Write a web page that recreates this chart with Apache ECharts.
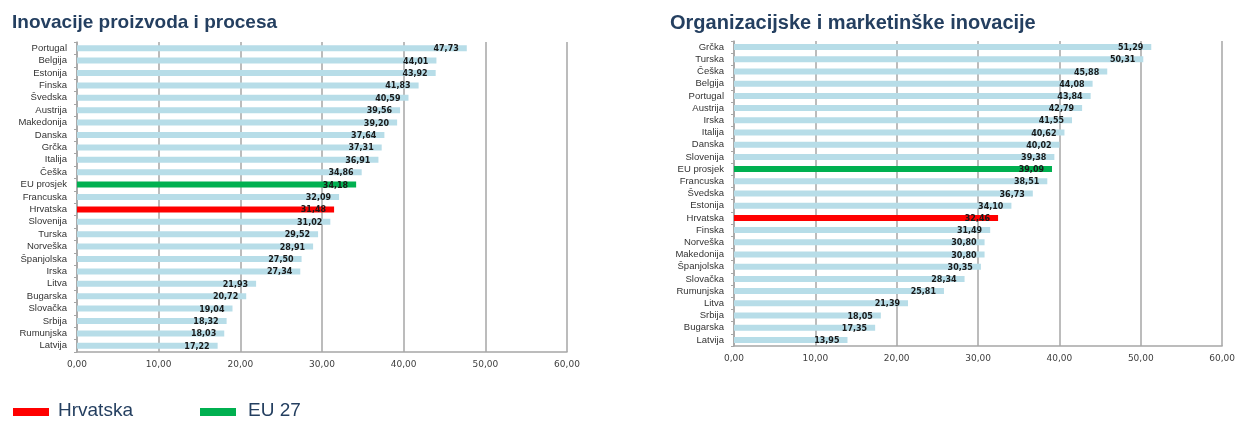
<!DOCTYPE html>
<html>
<head>
<meta charset="utf-8">
<style>
html,body{margin:0;padding:0;background:#fff;}
#c{width:1238px;height:421px;}
</style>
<script src="https://cdn.jsdelivr.net/npm/echarts@6/dist/echarts.min.js"></script>
</head>
<body>
<div id="c"></div>
<script>
const leftTitle = 'Inovacije proizvoda i procesa';
const rightTitle = 'Organizacijske i marketinške inovacije';
const leftCategories = ['Portugal','Belgija','Estonija','Finska','Švedska','Austrija','Makedonija','Danska','Grčka','Italija','Češka','EU prosjek','Francuska','Hrvatska','Slovenija','Turska','Norveška','Španjolska','Irska','Litva','Bugarska','Slovačka','Srbija','Rumunjska','Latvija'];
const leftValues = [47.73,44.01,43.92,41.83,40.59,39.56,39.20,37.64,37.31,36.91,34.86,34.18,32.09,31.48,31.02,29.52,28.91,27.50,27.34,21.93,20.72,19.04,18.32,18.03,17.22];
const rightCategories = ['Grčka','Turska','Češka','Belgija','Portugal','Austrija','Irska','Italija','Danska','Slovenija','EU prosjek','Francuska','Švedska','Estonija','Hrvatska','Finska','Norveška','Makedonija','Španjolska','Slovačka','Rumunjska','Litva','Srbija','Bugarska','Latvija'];
const rightValues = [51.29,50.31,45.88,44.08,43.84,42.79,41.55,40.62,40.02,39.38,39.09,38.51,36.73,34.10,32.46,31.49,30.80,30.80,30.35,28.34,25.81,21.39,18.05,17.35,13.95];
const xTicks = [0,10,20,30,40,50,60];
const legendItems = ['Hrvatska','EU 27'];

const BLUE = '#b7dde8', RED = '#ff0000', GREEN = '#00b050';
function colorFor(name){
  if (name === 'Hrvatska') return RED;
  if (name === 'EU prosjek') return GREEN;
  return BLUE;
}
function makeData(cats, vals){
  return vals.map((v,i)=>({value:v, name:cats[i], itemStyle:{color:colorFor(cats[i])}}));
}
const fmt = v => v.toFixed(2).replace('.', ',');

function xAxis(gi){
  return {
    gridIndex: gi, type:'value', min: xTicks[0], max: xTicks[xTicks.length-1], interval: 10,
    axisLine:{show:true, lineStyle:{color:'#a6a6a6', width:1.5}},
    axisTick:{show:false},
    splitLine:{show:true, lineStyle:{color:'#a6a6a6', width:1.5}},
    axisLabel:{formatter: fmt, fontSize:9, color:'#404040', margin:8, fontFamily:'DejaVu Sans'}
  };
}
function yAxis(gi, cats){
  return {
    gridIndex: gi, type:'category', data: cats, inverse:true,
    axisLine:{show:true, lineStyle:{color:'#a6a6a6', width:1.5}},
    axisTick:{show:true, length:3, interval:0, lineStyle:{color:'#a6a6a6'}},
    axisLabel:{interval:0, fontSize:9.5, color:'#333', margin:10, fontFamily:'Liberation Sans'}
  };
}
function series(gi, cats, vals){
  return {
    type:'bar', xAxisIndex:gi, yAxisIndex:gi, data: makeData(cats, vals),
    barWidth:6, silent:true,
    label:{show:true, position:'insideRight', distance:8, offset:[0,1],
      formatter: p => fmt(p.value), fontSize:8, fontWeight:'bold', color:'#1a1a1a', fontFamily:'DejaVu Sans'}
  };
}

const chart = echarts.init(document.getElementById('c'));
chart.setOption({
  animation:false,
  title:[
    {text:leftTitle, left:7, top:8, textStyle:{fontSize:19, fontWeight:'bold', color:'#243f60', fontFamily:'Liberation Sans'}},
    {text:rightTitle, left:665, top:8, textStyle:{fontSize:20, fontWeight:'bold', color:'#243f60', fontFamily:'Liberation Sans'}}
  ],
  grid:[
    {left:77, top:42, width:490, height:310},
    {left:734, top:41, width:489, height:305}
  ],
  xAxis:[xAxis(0), xAxis(1)],
  yAxis:[yAxis(0, leftCategories), yAxis(1, rightCategories)],
  series:[series(0, leftCategories, leftValues), series(1, rightCategories, rightValues)],
  graphic:[
    {type:'rect', shape:{x:13, y:408, width:36, height:8}, style:{fill:RED}},
    {type:'text', x:58, y:411, style:{text:legendItems[0], fontSize:19, fill:'#243f60', verticalAlign:'middle', fontFamily:'Liberation Sans'}},
    {type:'rect', shape:{x:200, y:408, width:36, height:8}, style:{fill:GREEN}},
    {type:'text', x:248, y:411, style:{text:legendItems[1], fontSize:19, fill:'#243f60', verticalAlign:'middle', fontFamily:'Liberation Sans'}}
  ]
});
</script>
</body>
</html>
